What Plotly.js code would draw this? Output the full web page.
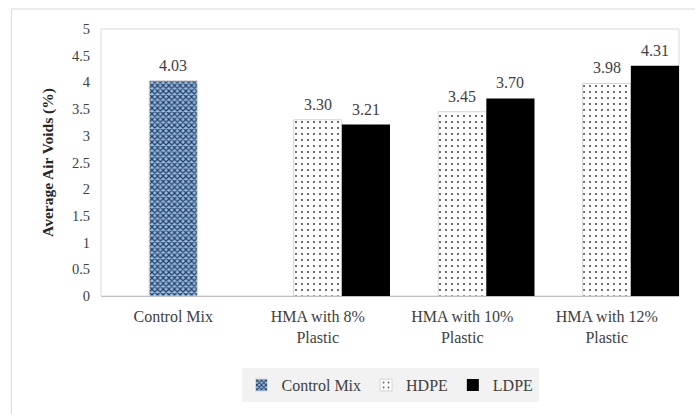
<!DOCTYPE html>
<html>
<head>
<meta charset="utf-8">
<script src="https://cdn.plot.ly/plotly-3.0.1.min.js"></script>
<style>html,body{margin:0;padding:0;background:#fff;}#chart{width:695px;height:414px;}</style>
</head>
<body>
<div id="chart"></div>
<script>
const categories = ['Control Mix', 'HMA with 8%<br>Plastic', 'HMA with 10%<br>Plastic', 'HMA with 12%<br>Plastic'];
const controlCats = ['Control Mix'];
const controlValues = [4.03];
const plasticCats = ['HMA with 8%<br>Plastic', 'HMA with 10%<br>Plastic', 'HMA with 12%<br>Plastic'];
const hdpeValues = [3.30, 3.45, 3.98];
const ldpeValues = [3.21, 3.70, 4.31];
const yTicks = [0, 0.5, 1, 1.5, 2, 2.5, 3, 3.5, 4, 4.5, 5];

const W = 1/3;
const serif = '"Liberation Serif", "Times New Roman", serif';
const txt = '#404040';

const traces = [
  {
    type: 'bar', name: 'Control Mix', x: controlCats, y: controlValues,
    offset: -W/2, width: W,
    marker: {color: '#7f9fc6', line: {color: '#d9d9d9', width: 1},
      pattern: {shape: 'x', fgcolor: '#1f3d66', bgcolor: '#9cbbe0', size: 4, solidity: 0.5}},
    hoverinfo: 'skip'
  },
  {
    type: 'bar', name: 'HDPE', x: plasticCats, y: hdpeValues,
    offset: -W/2, width: W,
    marker: {color: '#ffffff', line: {color: '#d4d4d4', width: 1},
      pattern: {shape: '.', fgcolor: '#4a4a4a', bgcolor: '#ffffff', size: 6, solidity: 0.1}},
    hoverinfo: 'skip'
  },
  {
    type: 'bar', name: 'LDPE', x: plasticCats, y: ldpeValues,
    offset: W/2, width: W,
    marker: {color: '#000000', line: {width: 0}},
    hoverinfo: 'skip'
  }
];

const annotations = [];
function addLabels(cats, vals, shift) {
  cats.forEach((c, i) => {
    annotations.push({
      x: categories.indexOf(c) + shift, y: vals[i], xref: 'x', yref: 'y',
      text: vals[i].toFixed(2), showarrow: false, yanchor: 'bottom', yshift: 5,
      font: {family: serif, size: 16, color: txt}
    });
  });
}
addLabels(controlCats, controlValues, 0);
addLabels(plasticCats, hdpeValues, 0);
addLabels(plasticCats, ldpeValues, W);

const layout = {
  width: 695, height: 414,
  margin: {l: 101, r: 16, t: 29, b: 118},
  paper_bgcolor: '#ffffff', plot_bgcolor: '#ffffff',
  barmode: 'overlay',
  showlegend: true,
  legend: {
    orientation: 'h', x: 0.5, xanchor: 'center', y: -0.27, yanchor: 'top',
    bgcolor: '#f2f2f2', font: {family: serif, size: 16, color: txt},
    itemwidth: 30, traceorder: 'normal'
  },
  xaxis: {
    type: 'category', categoryorder: 'array', categoryarray: categories,
    range: [-0.5, 3.5], showgrid: false, zeroline: false,
    showline: true, linecolor: '#bfbfbf', linewidth: 1,
    ticks: '', ticklabelstandoff: 6, tickfont: {family: serif, size: 16, color: txt},
    fixedrange: true
  },
  yaxis: {
    range: [0, 5], tickvals: yTicks, ticktext: yTicks.map(String),
    showgrid: false, zeroline: false, showline: false, ticks: '',
    ticklabelstandoff: 10,
    tickfont: {family: serif, size: 14.5, color: txt},
    title: {text: '<b>Average Air Voids (%)</b>', font: {family: serif, size: 15.5, color: '#262626'}, standoff: 14},
    fixedrange: true
  },
  annotations: annotations,
  shapes: [
    {type: 'rect', xref: 'paper', yref: 'paper', x0: 0, x1: 1, y0: 0, y1: 1,
      line: {color: '#d9d9d9', width: 1}, layer: 'below'},
    {type: 'line', xref: 'paper', yref: 'paper', x0: -0.155, x1: -0.155, y0: 1.075, y1: -0.5,
      line: {color: '#d9d9d9', width: 1}},
    {type: 'line', xref: 'paper', yref: 'paper', x0: -0.155, x1: 1.05, y0: 1.075, y1: 1.075,
      line: {color: '#d9d9d9', width: 1}}
  ]
};

Plotly.newPlot('chart', traces, layout, {displayModeBar: false, staticPlot: true});
</script>
</body>
</html>
